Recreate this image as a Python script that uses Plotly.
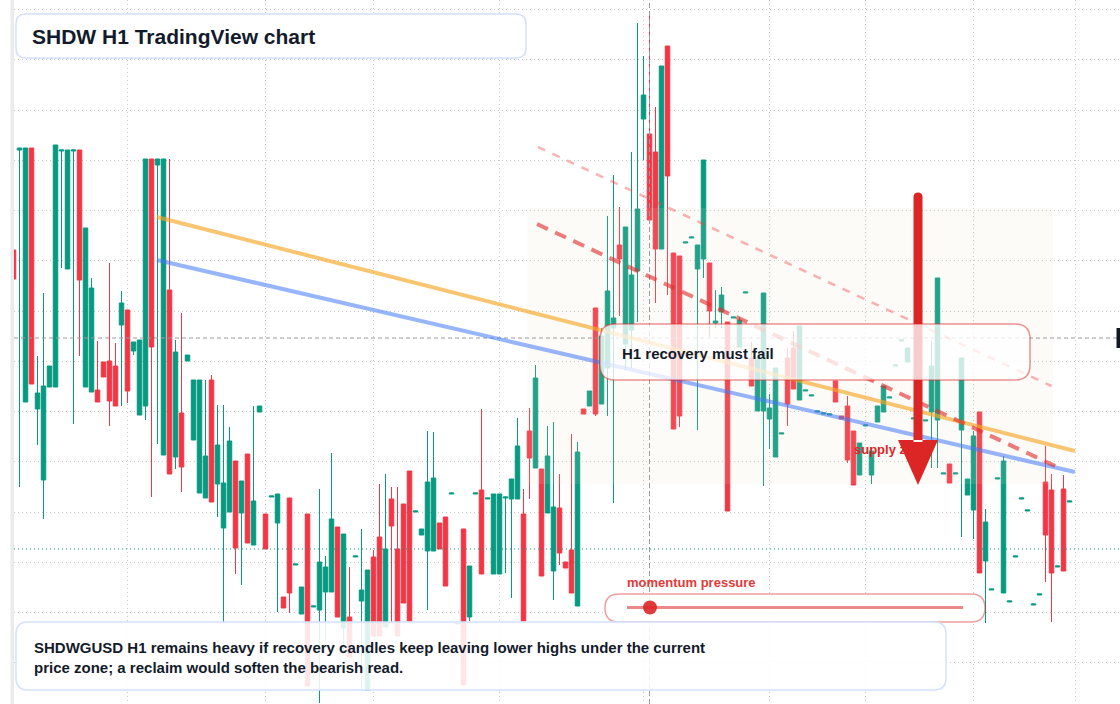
import plotly.graph_objects as go

# ---------------- data (SHDW/USD, 1h candles, price in USD) ----------------
hours = list(range(-1, 176))

opens = [0.1750, 0.1850, 0.1598, 0.1852, 0.1591, 0.1520, 0.1613, 0.1613, 0.1849, 0.1731,
         0.1849, 0.1850, 0.1613, 0.1608, 0.1610, 0.1638, 0.1639, 0.1634, 0.1675, 0.1690,
         0.1649, 0.1585, 0.1594, 0.1841, 0.1835, 0.1545, 0.1710, 0.1543, 0.1587, 0.1639,
         0.1560, 0.1507, 0.1502, 0.1620, 0.1516, 0.1472, 0.1488, 0.1539, 0.1487, 0.1546,
         0.1455, 0.1588, 0.1486, 0.1503, 0.1477, 0.1403, 0.1502, 0.1435, 0.1386, 0.1486,
         0.1393, 0.1390, 0.1408, 0.1408, 0.1473, 0.1372, 0.1383, 0.1443, 0.1399, 0.1310,
         0.1443, 0.1463, 0.1373, 0.1501, 0.1451, 0.1496, 0.1529, 0.1488, 0.1465, 0.1449,
         0.1449, 0.1477, 0.1483, 0.1506, 0.1376, 0.1471, 0.1383, 0.1506, 0.1510, 0.1501,
         0.1426, 0.1426, 0.1502, 0.1501, 0.1501, 0.1486, 0.1569, 0.1532, 0.1531, 0.1487,
         0.1429, 0.1492, 0.1438, 0.1450, 0.1394, 0.1591, 0.1594, 0.1692, 0.1596, 0.1632,
         0.1672, 0.1755, 0.1656, 0.1670, 0.1729, 0.1881, 0.1866, 0.1848, 0.1751, 0.1954,
         0.1747, 0.1744, 0.1757, 0.1762, 0.1731, 0.1741, 0.1737, 0.1677, 0.1688, 0.1678,
         0.1682, 0.1653, 0.1707, 0.1642, 0.1589, 0.1589, 0.1581, 0.1543, 0.1566, 0.1642,
         0.1652, 0.1600, 0.1609, 0.1604, 0.1588, 0.1586, 0.1585, 0.1619, 0.1584, 0.1594,
         0.1569, 0.1525, 0.1574, 0.1525, 0.1578, 0.1588, 0.1602, 0.1634, 0.1659, 0.1638,
         0.1581, 0.1580, 0.1579, 0.1588, 0.1580, 0.1526, 0.1536, 0.1526, 0.1570, 0.1505,
         0.1490, 0.1588, 0.1439, 0.1410, 0.1521, 0.1407, 0.1398, 0.1443, 0.1501, 0.1489,
         0.1395, 0.1405, 0.1518, 0.1510, 0.1433, 0.1511, 0.1498]

highs = [0.1750, 0.1852, 0.1852, 0.1852, 0.1644, 0.1707, 0.1634, 0.1855, 0.1850, 0.1850,
         0.1850, 0.1850, 0.1772, 0.1722, 0.1659, 0.1638, 0.1737, 0.1657, 0.1709, 0.1690,
         0.1658, 0.1660, 0.1841, 0.1841, 0.1841, 0.1841, 0.1841, 0.1660, 0.1687, 0.1645,
         0.1620, 0.1620, 0.1620, 0.1625, 0.1595, 0.1595, 0.1573, 0.1539, 0.1519, 0.1546,
         0.1594, 0.1594, 0.1486, 0.1504, 0.1506, 0.1403, 0.1502, 0.1436, 0.1413, 0.1486,
         0.1394, 0.1511, 0.1444, 0.1547, 0.1473, 0.1466, 0.1433, 0.1444, 0.1471, 0.1430,
         0.1450, 0.1516, 0.1526, 0.1513, 0.1513, 0.1496, 0.1529, 0.1489, 0.1471, 0.1569,
         0.1568, 0.1477, 0.1483, 0.1507, 0.1377, 0.1471, 0.1434, 0.1507, 0.1591, 0.1502,
         0.1506, 0.1506, 0.1503, 0.1521, 0.1582, 0.1511, 0.1592, 0.1635, 0.1531, 0.1574,
         0.1578, 0.1526, 0.1438, 0.1566, 0.1558, 0.1591, 0.1609, 0.1692, 0.1672, 0.1784,
         0.1825, 0.1793, 0.1773, 0.1848, 0.1977, 0.1944, 0.1989, 0.1893, 0.1934, 0.1954,
         0.1747, 0.1744, 0.1758, 0.1763, 0.1755, 0.1840, 0.1737, 0.1710, 0.1713, 0.1678,
         0.1683, 0.1683, 0.1708, 0.1658, 0.1642, 0.1707, 0.1606, 0.1632, 0.1567, 0.1652,
         0.1669, 0.1674, 0.1610, 0.1605, 0.1589, 0.1587, 0.1586, 0.1619, 0.1584, 0.1604,
         0.1569, 0.1557, 0.1575, 0.1549, 0.1594, 0.1614, 0.1603, 0.1635, 0.1660, 0.1652,
         0.1582, 0.1581, 0.1580, 0.1659, 0.1722, 0.1527, 0.1536, 0.1527, 0.1642, 0.1521,
         0.1569, 0.1588, 0.1491, 0.1411, 0.1522, 0.1544, 0.1399, 0.1444, 0.1502, 0.1490,
         0.1396, 0.1406, 0.1554, 0.1526, 0.1434, 0.1525, 0.1499]

lows = [0.1721, 0.1513, 0.1598, 0.1616, 0.1555, 0.1481, 0.1613, 0.1613, 0.1732, 0.1731,
        0.1576, 0.1644, 0.1613, 0.1608, 0.1598, 0.1623, 0.1574, 0.1594, 0.1594, 0.1597,
        0.1645, 0.1585, 0.1580, 0.1503, 0.1556, 0.1545, 0.1526, 0.1531, 0.1508, 0.1639,
        0.1560, 0.1507, 0.1502, 0.1498, 0.1483, 0.1377, 0.1488, 0.1426, 0.1415, 0.1457,
        0.1455, 0.1588, 0.1451, 0.1503, 0.1388, 0.1392, 0.1387, 0.1435, 0.1386, 0.1314,
        0.1393, 0.1297, 0.1360, 0.1408, 0.1383, 0.1345, 0.1343, 0.1443, 0.1310, 0.1310,
        0.1364, 0.1364, 0.1373, 0.1377, 0.1364, 0.1397, 0.1379, 0.1488, 0.1465, 0.1390,
        0.1449, 0.1451, 0.1414, 0.1506, 0.1376, 0.1315, 0.1379, 0.1506, 0.1426, 0.1501,
        0.1426, 0.1426, 0.1427, 0.1402, 0.1501, 0.1379, 0.1501, 0.1532, 0.1424, 0.1487,
        0.1400, 0.1435, 0.1432, 0.1407, 0.1394, 0.1586, 0.1594, 0.1584, 0.1596, 0.1584,
        0.1497, 0.1684, 0.1630, 0.1632, 0.1678, 0.1840, 0.1780, 0.1697, 0.1751, 0.1705,
        0.1571, 0.1573, 0.1757, 0.1762, 0.1570, 0.1722, 0.1663, 0.1672, 0.1672, 0.1489,
        0.1682, 0.1653, 0.1707, 0.1614, 0.1589, 0.1514, 0.1551, 0.1543, 0.1566, 0.1574,
        0.1611, 0.1600, 0.1609, 0.1604, 0.1588, 0.1586, 0.1585, 0.1598, 0.1581, 0.1537,
        0.1515, 0.1525, 0.1574, 0.1516, 0.1578, 0.1588, 0.1602, 0.1634, 0.1659, 0.1638,
        0.1581, 0.1580, 0.1579, 0.1532, 0.1532, 0.1526, 0.1517, 0.1526, 0.1463, 0.1505,
        0.1461, 0.1427, 0.1377, 0.1410, 0.1521, 0.1407, 0.1398, 0.1443, 0.1501, 0.1489,
        0.1395, 0.1405, 0.1418, 0.1378, 0.1433, 0.1429, 0.1498]

closes = [0.1721, 0.1852, 0.1852, 0.1616, 0.1607, 0.1614, 0.1634, 0.1855, 0.1850, 0.1850,
          0.1850, 0.1720, 0.1772, 0.1712, 0.1598, 0.1623, 0.1599, 0.1594, 0.1697, 0.1609,
          0.1658, 0.1660, 0.1841, 0.1653, 0.1841, 0.1841, 0.1526, 0.1648, 0.1533, 0.1645,
          0.1620, 0.1620, 0.1544, 0.1498, 0.1555, 0.1517, 0.1559, 0.1452, 0.1519, 0.1457,
          0.1499, 0.1594, 0.1451, 0.1504, 0.1506, 0.1392, 0.1407, 0.1436, 0.1413, 0.1314,
          0.1394, 0.1438, 0.1433, 0.1481, 0.1383, 0.1466, 0.1343, 0.1444, 0.1410, 0.1430,
          0.1364, 0.1364, 0.1451, 0.1474, 0.1364, 0.1397, 0.1379, 0.1489, 0.1471, 0.1518,
          0.1522, 0.1451, 0.1414, 0.1507, 0.1377, 0.1315, 0.1434, 0.1507, 0.1426, 0.1502,
          0.1506, 0.1506, 0.1503, 0.1521, 0.1554, 0.1379, 0.1542, 0.1622, 0.1424, 0.1544,
          0.1493, 0.1447, 0.1432, 0.1407, 0.1548, 0.1586, 0.1609, 0.1586, 0.1664, 0.1709,
          0.1682, 0.1741, 0.1773, 0.1725, 0.1791, 0.1905, 0.1780, 0.1751, 0.1934, 0.1824,
          0.1571, 0.1584, 0.1758, 0.1763, 0.1755, 0.1840, 0.1689, 0.1679, 0.1705, 0.1489,
          0.1683, 0.1680, 0.1708, 0.1614, 0.1642, 0.1707, 0.1592, 0.1632, 0.1567, 0.1596,
          0.1611, 0.1674, 0.1610, 0.1605, 0.1589, 0.1587, 0.1586, 0.1598, 0.1581, 0.1540,
          0.1515, 0.1557, 0.1575, 0.1549, 0.1594, 0.1614, 0.1603, 0.1635, 0.1660, 0.1652,
          0.1582, 0.1581, 0.1580, 0.1634, 0.1722, 0.1527, 0.1517, 0.1527, 0.1642, 0.1521,
          0.1564, 0.1427, 0.1478, 0.1411, 0.1522, 0.1539, 0.1399, 0.1444, 0.1502, 0.1490,
          0.1396, 0.1406, 0.1465, 0.1427, 0.1434, 0.1429, 0.1499]

time_grid = [18, 41, 59, 80, 104, 125, 141, 159, 176]   # session separators (bar index)
last_price = 0.1451
crosshair_bar = 105
crosshair_price = 0.1662

# overlays, in (bar index, price)
supply_zone = dict(x0=84.6, x1=172.25, y0=0.1516, y1=0.1792)
ema_slow = [(22.9, 0.1783), (175.9, 0.1549)]
ema_fast = [(22.9, 0.1740), (175.9, 0.1528)]
lower_high_line = [(86.25, 0.1776), (172.6, 0.1534)]
upper_channel = [(86.4, 0.1853), (172.0, 0.1614)]

# ---------------- styling helpers ----------------
W, H = 1120, 704
ML = 14
PW = W - ML
GREEN = "#089981"
RED = "#f23645"
FONT = "Liberation Sans, Arial, sans-serif"
XR = [-5.5 / 6, 1100.5 / 6]
YR = [0.1296, 0.2000]


def px2x(px):  # pixel -> bar index
    return XR[0] + (px - ML) / PW * (XR[1] - XR[0])


def py2y(py):  # pixel -> price
    return YR[1] - py / H * (YR[1] - YR[0])


def pxp(px):  # pixel -> paper
    return (px - ML) / PW


def pyp(py):
    return 1 - py / H


def rrect_paper(x0, y0, x1, y1, r):
    X, Y = pxp, pyp
    return (f"M {X(x0 + r)},{Y(y0)} L {X(x1 - r)},{Y(y0)} Q {X(x1)},{Y(y0)} {X(x1)},{Y(y0 + r)} "
            f"L {X(x1)},{Y(y1 - r)} Q {X(x1)},{Y(y1)} {X(x1 - r)},{Y(y1)} "
            f"L {X(x0 + r)},{Y(y1)} Q {X(x0)},{Y(y1)} {X(x0)},{Y(y1 - r)} "
            f"L {X(x0)},{Y(y0 + r)} Q {X(x0)},{Y(y0)} {X(x0 + r)},{Y(y0)} Z")


fig = go.Figure(go.Candlestick(
    x=hours, open=opens, high=highs, low=lows, close=closes,
    increasing=dict(line=dict(color=GREEN, width=1), fillcolor=GREEN),
    decreasing=dict(line=dict(color=RED, width=1), fillcolor=RED),
    whiskerwidth=0, hoverinfo="skip",
))

shapes = []
# left panel strip
shapes.append(dict(type="rect", xref="paper", yref="paper", x0=pxp(10.5), x1=pxp(14), y0=0, y1=1,
                   fillcolor="#ebebeb", line=dict(width=0), layer="above"))
# supply zone
shapes.append(dict(type="rect", xref="x", yref="y", **supply_zone,
                   fillcolor="rgba(240,220,200,0.12)", line=dict(width=0), layer="above"))
# last price line
shapes.append(dict(type="line", xref="paper", yref="y", x0=0, x1=1, y0=last_price, y1=last_price,
                   line=dict(color=GREEN, width=1, dash="1px,3px"), layer="above"))
# crosshair
shapes.append(dict(type="line", xref="paper", yref="y", x0=0, x1=1, y0=crosshair_price, y1=crosshair_price,
                   line=dict(color="#9a9a9a", width=1, dash="4px,3px"), layer="above"))
shapes.append(dict(type="line", xref="x", yref="paper", x0=crosshair_bar, x1=crosshair_bar, y0=0, y1=1,
                   line=dict(color="#9a9a9a", width=1, dash="5px,3px"), layer="above"))
# moving-average style trend lines
shapes.append(dict(type="line", xref="x", yref="y", x0=ema_slow[0][0], y0=ema_slow[0][1],
                   x1=ema_slow[1][0], y1=ema_slow[1][1],
                   line=dict(color="rgba(247,166,37,0.65)", width=4), layer="above"))
shapes.append(dict(type="line", xref="x", yref="y", x0=ema_fast[0][0], y0=ema_fast[0][1],
                   x1=ema_fast[1][0], y1=ema_fast[1][1],
                   line=dict(color="rgba(66,120,245,0.55)", width=4), layer="above"))
# lower-high trendlines
shapes.append(dict(type="line", xref="x", yref="y", x0=upper_channel[0][0], y0=upper_channel[0][1],
                   x1=upper_channel[1][0], y1=upper_channel[1][1],
                   line=dict(color="rgba(239,68,68,0.4)", width=2.5, dash="8px,8px"), layer="above"))
shapes.append(dict(type="line", xref="x", yref="y", x0=lower_high_line[0][0], y0=lower_high_line[0][1],
                   x1=lower_high_line[1][0], y1=lower_high_line[1][1],
                   line=dict(color="rgba(225,45,45,0.62)", width=4, dash="12px,8px"), layer="above"))
# "supply zone" label (beneath the arrow)
shapes.append(dict(type="rect", xref="x", yref="y", x0=px2x(851), x1=px2x(960), y0=py2y(456), y1=py2y(440),
                   fillcolor="rgba(0,0,0,0)", line=dict(width=0), layer="above",
                   label=dict(text="<b>supply zone</b>", textposition="middle left", padding=0,
                              font=dict(family=FONT, size=13, color="#dc2626"))))
# big bearish arrow
ax, hw = 918, 4.5
arrow_path = (f"M {px2x(ax - hw)},{py2y(442)} L {px2x(ax - hw)},{py2y(197)} "
              f"Q {px2x(ax - hw)},{py2y(192.5)} {px2x(ax)},{py2y(192.5)} "
              f"Q {px2x(ax + hw)},{py2y(192.5)} {px2x(ax + hw)},{py2y(197)} "
              f"L {px2x(ax + hw)},{py2y(442)} Z "
              f"M {px2x(898)},{py2y(440)} L {px2x(938)},{py2y(440)} L {px2x(ax)},{py2y(485)} Z")
shapes.append(dict(type="path", xref="x", yref="y", path=arrow_path,
                   fillcolor="#dc2626", line=dict(width=0), layer="above"))
# callout box
shapes.append(dict(type="path", xref="paper", yref="paper", path=rrect_paper(600, 324, 1030, 380, 15),
                   fillcolor="rgba(255,255,255,0.77)", line=dict(color="rgba(220,38,38,0.5)", width=1.5),
                   layer="above"))
# title box
shapes.append(dict(type="path", xref="paper", yref="paper", path=rrect_paper(16, 14, 526, 58, 10),
                   fillcolor="rgba(255,255,255,0.95)", line=dict(color="#d3e1fa", width=1.5), layer="above"))
# momentum pill
shapes.append(dict(type="path", xref="paper", yref="paper", path=rrect_paper(605, 594, 985, 622, 14),
                   fillcolor="rgba(255,255,255,0.9)", line=dict(color="rgba(220,38,38,0.45)", width=1.5),
                   layer="above"))
shapes.append(dict(type="line", xref="paper", yref="paper", x0=pxp(627), x1=pxp(963), y0=pyp(607.5), y1=pyp(607.5),
                   line=dict(color="rgba(220,38,38,0.55)", width=3), layer="above"))
shapes.append(dict(type="circle", xref="paper", yref="paper", x0=pxp(643), x1=pxp(657), y0=pyp(614.5), y1=pyp(600.5),
                   fillcolor="rgba(220,38,38,0.9)", line=dict(width=0), layer="above"))
# bottom note box
shapes.append(dict(type="path", xref="paper", yref="paper", path=rrect_paper(16, 622, 946, 690, 12),
                   fillcolor="rgba(255,255,255,0.87)", line=dict(color="#d3e1fa", width=1.5), layer="above"))
# crosshair price label (cut at the edge)
shapes.append(dict(type="rect", xref="paper", yref="paper", x0=pxp(1116.5), x1=pxp(1130), y0=pyp(348), y1=pyp(328),
                   fillcolor="#131722", line=dict(width=0), layer="above"))

annotations = [
    dict(text="<b>SHDW H1 TradingView chart</b>", xref="paper", yref="paper", x=pxp(30), y=pyp(36.5),
         xanchor="left", yanchor="middle", showarrow=False, font=dict(family=FONT, size=21, color="#131b2b")),
    dict(text="<b>H1 recovery must fail</b>", xref="paper", yref="paper", x=pxp(620), y=pyp(353.5),
         xanchor="left", yanchor="middle", showarrow=False, font=dict(family=FONT, size=15, color="#131b2b")),
    dict(text="<b>momentum pressure</b>", xref="paper", yref="paper", x=pxp(625), y=pyp(582.5),
         xanchor="left", yanchor="middle", showarrow=False, font=dict(family=FONT, size=13, color="#e03a3a")),
    dict(text="<b>SHDWGUSD H1 remains heavy if recovery candles keep leaving lower highs under the current"
              "<br>price zone; a reclaim would soften the bearish read.</b>",
         xref="paper", yref="paper", x=pxp(32), y=pyp(657), align="left",
         xanchor="left", yanchor="middle", showarrow=False, font=dict(family=FONT, size=15, color="#131b2b")),
]

grid = dict(showgrid=True, gridcolor="#c9c9c9", gridwidth=1, griddash="1px,3px",
            showticklabels=False, ticks="", zeroline=False, showline=False)

fig.update_layout(
    width=W, height=H,
    margin=dict(l=ML, r=0, t=0, b=0, pad=0),
    paper_bgcolor="white", plot_bgcolor="white",
    showlegend=False, hovermode=False,
    boxgap=0.25, boxgroupgap=0,
    xaxis=dict(range=XR, tickmode="array", tickvals=time_grid, rangeslider=dict(visible=False), **grid),
    yaxis=dict(range=YR, tick0=0.19903, dtick=0.005025, **grid),
    shapes=shapes, annotations=annotations,
)

fig.write_html("out.html", post_script="document.body.style.margin='0';")
